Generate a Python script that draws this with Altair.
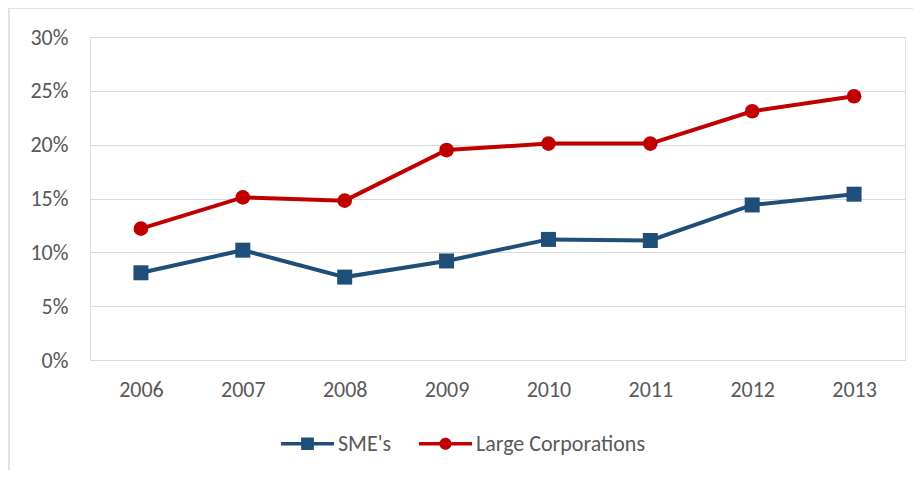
import altair as alt
import pandas as pd

years = ["2006", "2007", "2008", "2009", "2010", "2011", "2012", "2013"]
sme = [0.081, 0.102, 0.077, 0.092, 0.112, 0.111, 0.144, 0.154]
large = [0.122, 0.151, 0.148, 0.195, 0.201, 0.201, 0.231, 0.245]
series_names = ["SME's", "Large Corporations"]
colors = ["#1F4E79", "#C00000"]
marker_shapes = ["square", "circle"]
y_ticks = [0, 0.05, 0.10, 0.15, 0.20, 0.25, 0.30]

rows = []
for name, vals in zip(series_names, [sme, large]):
    for yr, v in zip(years, vals):
        rows.append({"year": yr, "value": v, "series": name})
df = pd.DataFrame(rows)

FONT = "Carlito, Lato, sans-serif"
TXT = "#595959"
FS = 22

sq_path = "M-1,-0.07H1V0.07H-1Z M-0.24,-0.24H0.24V0.24H-0.24Z"
ci_path = "M-1,-0.07H1V0.07H-1Z M-0.23,0A0.23,0.23 0 1,1 0.23,0A0.23,0.23 0 1,1 -0.23,0Z"

x_enc = alt.X("year:O", sort=years, title=None,
              scale=alt.Scale(paddingOuter=0.5),
              axis=alt.Axis(labelAngle=0, ticks=False, domain=False, labelPadding=19,
                            labelFontSize=FS, labelColor=TXT, labelFont=FONT, grid=False))
y_enc = alt.Y("value:Q", title=None, scale=alt.Scale(domain=[0, 0.30], nice=False),
              axis=alt.Axis(values=y_ticks, format=".0%", ticks=False, domain=False,
                            labelPadding=22, labelFontSize=FS, labelColor=TXT, labelFont=FONT,
                            gridColor="#D9D9D9", gridWidth=1.2))

legend = alt.Legend(
    orient="none", legendX=191, legendY=380, direction="horizontal", title=None,
    symbolSize=2809, labelFontSize=FS, labelColor=TXT, labelFont=FONT, labelLimit=400,
    labelOffset=4, columnPadding=27, symbolStrokeWidth=0, symbolOpacity=1,
)

layers = []
frame = alt.Chart(pd.DataFrame({"a": [0]})).mark_rect(
    fillOpacity=0, stroke="#D9D9D9", strokeWidth=1.5
).encode(x=alt.value(-81), y=alt.value(-29), x2=alt.value(1000), y2=alt.value(700))
layers.append(frame)

for name, col, shp in zip(series_names, colors, marker_shapes):
    base = alt.Chart(df).transform_filter(alt.datum.series == name)
    layers.append(base.mark_line(strokeWidth=4, color=col).encode(x=x_enc, y=y_enc))
    layers.append(base.mark_point(filled=True, opacity=1, size=225 if shp == "square" else 215,
                                  shape=shp, color=col).encode(x=x_enc, y=y_enc))

legend_layer = alt.Chart(df).transform_filter("false").mark_point(filled=True, opacity=1).encode(
    x=x_enc, y=y_enc,
    color=alt.Color("series:N", scale=alt.Scale(domain=series_names, range=colors),
                    sort=series_names, legend=legend),
    shape=alt.Shape("series:N", scale=alt.Scale(domain=series_names, range=[sq_path, ci_path]),
                    sort=series_names, legend=legend),
)
layers.append(legend_layer)

chart = alt.layer(*layers).properties(
    width=815, height=323,
    autosize=alt.AutoSizeParams(type="none"),
    padding={"left": 82, "top": 29, "right": 8, "bottom": 110},
).configure_view(stroke=None).configure(background="white")

chart.save("out.html", embed_options={"renderer": "svg", "actions": False})
